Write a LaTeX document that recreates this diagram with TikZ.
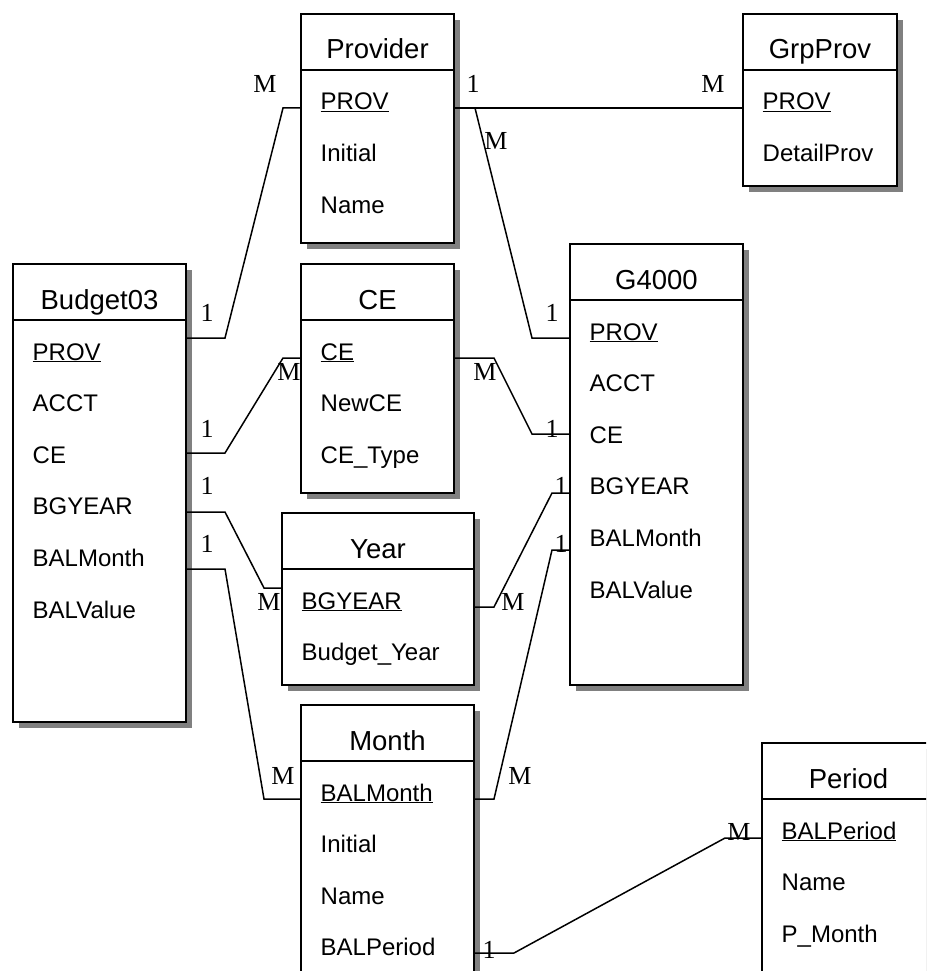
\documentclass[tikz,border=0pt]{standalone}
\usepackage{fontspec}
\setmainfont{Liberation Sans}
\newfontfamily\cardfont{Liberation Serif}
\usetikzlibrary{calc, positioning, shadows}

\tikzset{
  entity/.style={draw, line width=2pt, fill=white, anchor=north west, inner sep=0pt,
    drop shadow={shadow xshift=6pt, shadow yshift=-6pt, fill=black!50, opacity=1}},
  title/.style={anchor=base, inner sep=0pt, font=\fontsize{27.5}{30}\selectfont},
  attr/.style={anchor=base west, inner sep=0pt, font=\fontsize{24}{28}\selectfont},
  card/.style={inner sep=0pt, font=\cardfont\fontsize{26}{28}\selectfont},
  link/.style={line width=1.5pt},
  head/.style={line width=1.8pt},
}

\begin{document}
\begin{tikzpicture}[x=1pt, y=-1pt]
  \useasboundingbox (0,0) rectangle (926,971);
  \clip (0,0) rectangle (926,971);

  % Tables
  \node[entity, minimum width=153pt, minimum height=229pt] (provider) at (300,13) {};
  \node[entity, minimum width=154pt, minimum height=172pt] (grpprov) at (742,13) {};
  \node[entity, minimum width=173pt, minimum height=458pt] (budget) at (12,263) {};
  \node[entity, minimum width=153pt, minimum height=229pt] (ce) at (300,263) {};
  \node[entity, minimum width=173pt, minimum height=441pt] (g4000) at (569,243) {};
  \node[entity, minimum width=192pt, minimum height=172pt] (year) at (281,512) {};
  \node[entity, minimum width=173pt, minimum height=300pt] (month) at (300,704) {};
  \node[entity, minimum width=173pt, minimum height=300pt] (period) at (761,742) {};

  % Titles and header lines
  \foreach \t/\n in {provider/Provider, grpprov/GrpProv, budget/Budget03, ce/CE,
                     g4000/G4000, year/Year, month/Month, period/Period} {
    \node[title] (\t-title) at ($(\t.north)+(0,46)$) {\n};
    \draw[head] ([yshift=-57pt]\t.north west) -- ([yshift=-57pt]\t.north east);
  }

  % Attributes
  \foreach \a [count=\i from 0] in {\underline{PROV}, Initial, Name}
    \node[attr] (provider-\i) at ($(provider.north west)+(20.5,97+51.6*\i)$) {\a};
  \foreach \a [count=\i from 0] in {\underline{PROV}, DetailProv}
    \node[attr] (grpprov-\i) at ($(grpprov.north west)+(20.5,97+51.6*\i)$) {\a};
  \foreach \a [count=\i from 0] in {\underline{PROV}, ACCT, CE, BGYEAR, BALMonth, BALValue}
    \node[attr] (budget-\i) at ($(budget.north west)+(20.5,97+51.6*\i)$) {\a};
  \foreach \a [count=\i from 0] in {\underline{CE}, NewCE, CE\_Type}
    \node[attr] (ce-\i) at ($(ce.north west)+(20.5,97+51.6*\i)$) {\a};
  \foreach \a [count=\i from 0] in {\underline{PROV}, ACCT, CE, BGYEAR, BALMonth, BALValue}
    \node[attr] (g4000-\i) at ($(g4000.north west)+(20.5,97+51.6*\i)$) {\a};
  \foreach \a [count=\i from 0] in {\underline{BGYEAR}, Budget\_Year}
    \node[attr] (year-\i) at ($(year.north west)+(20.5,97+51.6*\i)$) {\a};
  \foreach \a [count=\i from 0] in {\underline{BALMonth}, Initial, Name, BALPeriod}
    \node[attr] (month-\i) at ($(month.north west)+(20.5,97+51.6*\i)$) {\a};
  \foreach \a [count=\i from 0] in {\underline{BALPeriod}, Name, P\_Month}
    \node[attr] (period-\i) at ($(period.north west)+(20.5,97+51.6*\i)$) {\a};

  % Relationships
  \draw[link] ([yshift=-75pt]budget.north east) -- ++(38,0) -- ++(58,-230)
    -- ([yshift=-95pt]provider.north west);
  \draw[link] ([yshift=-95pt]provider.north east) -- ([yshift=-95pt]grpprov.north west);
  \coordinate (pjoin) at ([xshift=20pt, yshift=-95pt]provider.north east);
  \draw[link] (pjoin) -- ++(57,230) -- ([yshift=-95pt]g4000.north west);
  \draw[link] ([yshift=-190pt]budget.north east) -- ++(38,0) -- ++(58,-95)
    -- ([yshift=-95pt]ce.north west);
  \draw[link] ([yshift=-95pt]ce.north east) -- ++(39,0) -- ++(38,76)
    -- ([yshift=-191pt]g4000.north west);
  \draw[link] ([yshift=-249pt]budget.north east) -- ++(38,0) -- ++(39,76)
    -- ([yshift=-76pt]year.north west);
  \draw[link] ([yshift=-306pt]budget.north east) -- ++(38,0) -- ++(39,230)
    -- ([yshift=-95pt]month.north west);
  \draw[link] ([yshift=-95pt]year.north east) -- ++(19,0) -- ++(58,-114)
    -- ([yshift=-250pt]g4000.north west);
  \draw[link] ([yshift=-95pt]month.north east) -- ++(19,0) -- ++(58,-249)
    -- ([yshift=-307pt]g4000.north west);
  \draw[link] ([yshift=-249pt]month.north east) -- ++(39,0) -- ++(211,-115)
    -- ([yshift=-96pt]period.north west);

  % Cardinalities
  \node[card] (c-bp1) at (207,313) {1};
  \node[card] (c-bpM) at (265,84) {M};
  \node[card] (c-pg1) at (473,84) {1};
  \node[card] (c-pgM) at (713,84) {M};
  \node[card] (c-pgM2) at (496,141) {M};
  \node[card] (c-pg4) at (552,313) {1};
  \node[card] (c-bc1) at (207,429) {1};
  \node[card] (c-bcM) at (289,372) {M};
  \node[card] (c-cgM) at (485,372) {M};
  \node[card] (c-cg1) at (552,429) {1};
  \node[card] (c-by1) at (207,486) {1};
  \node[card] (c-byM) at (269,602) {M};
  \node[card] (c-bm1) at (207,544) {1};
  \node[card] (c-bmM) at (283,776) {M};
  \node[card] (c-ygM) at (513,602) {M};
  \node[card] (c-yg1) at (561,486) {1};
  \node[card] (c-mgM) at (520,776) {M};
  \node[card] (c-mg1) at (561,544) {1};
  \node[card] (c-mp1) at (489,950) {1};
  \node[card] (c-mpM) at (739,832) {M};
\end{tikzpicture}
\end{document}
